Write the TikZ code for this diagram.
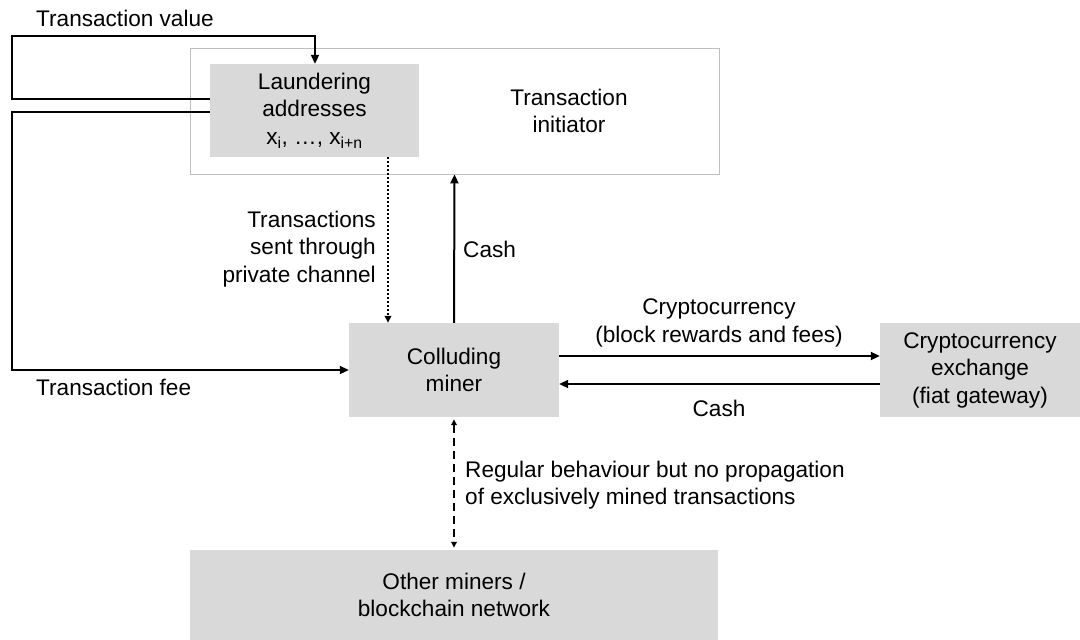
\documentclass[tikz,border=0pt]{standalone}
\usepackage{fontspec}
\setmainfont{Liberation Sans}
\usetikzlibrary{arrows.meta}
\definecolor{boxgray}{HTML}{D9D9D9}
\definecolor{framegray}{HTML}{BFBFBF}
\begin{document}
\begin{tikzpicture}[x=1pt,y=-1pt,
  every node/.style={font=\fontsize{22.6}{27.5}\selectfont, inner sep=0pt},
  graybox/.style={fill=boxgray, draw=none, align=center},
  frame/.style={draw=framegray, line width=0.8pt, fill=white},
  lbl/.style={align=center},
  conn/.style={line width=2pt, -{Triangle[length=9pt,width=8pt]}},
  dbl/.style={line width=2pt, {Triangle[length=6pt,width=5.5pt]}-{Triangle[length=6pt,width=5.5pt]}, dash pattern=on 8pt off 5pt, shorten <=2pt, shorten >=2pt},
  dots/.style={line width=2pt, dash pattern=on 2pt off 2pt, -{Triangle[length=7pt,width=6.5pt]}}
]
\useasboundingbox (0,0) rectangle (1080,640);

% boxes
\node[frame, minimum width=529pt, minimum height=126pt] (init) at (454.5,111) {};
\node[lbl] (initlbl) at (569,111) {Transaction\\initiator};
\node[graybox, minimum width=209pt, minimum height=93pt] (laund) at (314.5,110.5)
  {Laundering\\addresses\\x\textsubscript{i}, …, x\textsubscript{i+n}};
\node[graybox, minimum width=210pt, minimum height=94pt] (coll) at (454,370) {Colluding\\miner};
\node[graybox, minimum width=200pt, minimum height=94pt] (exch) at (980,370)
  {Cryptocurrency\\exchange\\(fiat gateway)};
\node[graybox, minimum width=528pt, minimum height=90pt] (other) at (454,595)
  {Other miners /\\blockchain network};

% helper coordinates
\coordinate (tvS) at (210,99);
\coordinate (tvL) at (12,99);
\coordinate (tvT) at (315,36);
\coordinate (tfS) at (210,112);
\coordinate (tfL) at (12,112);
\coordinate (dx) at (388,0);
\coordinate (cy1) at (0,356);
\coordinate (cy2) at (0,384);

% connectors
\draw[conn] (tvS) -- (tvL) |- (tvT) -- (tvT |- laund.north);
\draw[conn] (tfS) -- (tfL) |- (coll.west);
\draw[dots] (laund.south -| dx) -- (coll.north -| dx);
\draw[conn] (coll.north) -- (init.south);
\draw[conn] (coll.east |- cy1) -- (exch.west |- cy1);
\draw[conn] (exch.west |- cy2) -- (coll.east |- cy2);
\draw[dbl] (coll.south) -- (other.north);

% labels
\node[anchor=west] (tvlbl) at (36,18) {Transaction value};
\node[anchor=west] (tflbl) at (36,387) {Transaction fee};
\node[align=right, anchor=east] (privlbl) at (376,249) {Transactions\\sent through\\private channel};
\node[anchor=west] (cashup) at (463,249) {Cash};
\node[lbl] (cryptolbl) at (719,323) {Cryptocurrency\\(block rewards and fees)};
\node (cashlbl) at (719,408) {Cash};
\node[align=left, anchor=west] (reglbl) at (465,485) {Regular behaviour but no propagation\\of exclusively mined transactions};
\end{tikzpicture}
\end{document}
